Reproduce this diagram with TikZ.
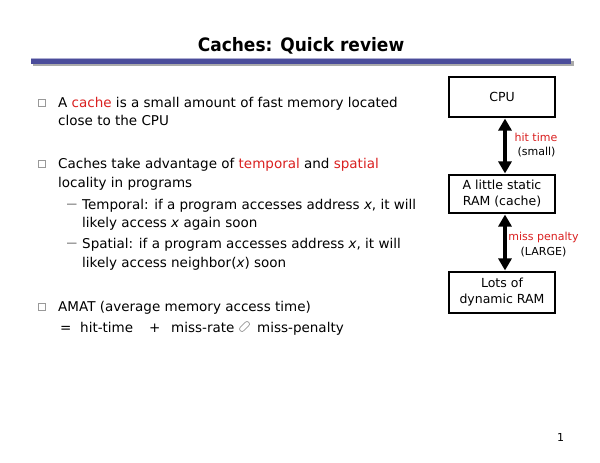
\documentclass[tikz,border=0pt]{standalone}
\usepackage{fontspec}
\setmainfont{DejaVu Sans}
\newfontfamily\titlefont{DejaVu Sans}[FakeStretch=0.92]
\usetikzlibrary{arrows.meta}
\definecolor{hl}{RGB}{218,32,32}
\definecolor{barblue}{RGB}{74,76,154}
\definecolor{bargray}{RGB}{170,170,170}
\begin{document}
\begin{tikzpicture}[x=1pt,y=-1pt,
  txt/.style={anchor=base west,inner sep=0pt,font=\fontsize{13.5}{16}\selectfont},
  dashmark/.style={anchor=base west,inner sep=0pt,font=\fontsize{10.5}{12}\selectfont,text=black!75},
  bulletbox/.style={draw=black!40,fill=white,line width=0.6pt,minimum size=7pt,inner sep=0pt,anchor=south west},
  membox/.style={draw=black,line width=1.1pt,minimum width=106pt,inner sep=0pt,align=center,font=\fontsize{12.5}{16}\selectfont},
  lbl/.style={anchor=base,inner sep=0pt,font=\fontsize{11}{13}\selectfont},
  dbl/.style={line width=4pt,{Triangle[width=13pt,length=12pt]}-{Triangle[width=13pt,length=12pt]},shorten <=1pt,shorten >=1pt}]
\useasboundingbox[fill=white] (0,0) rectangle (600,463);
% title and bar
\node[anchor=base,inner sep=0pt,font=\titlefont\bfseries\fontsize{18.5}{20}\selectfont] (title) at (301,51) {Caches: Quick review};
\fill[bargray] (33,60.5) rectangle (574,66);
\fill[barblue] (31,58) rectangle (571,63.5);
\draw[barblue!45!white,line width=0.8pt] (31,58.6) -- (571,58.6);
% bullets
\node[bulletbox] (b1) at (38,107) {};
\node[bulletbox] (b2) at (38,168) {};
\node[bulletbox] (b3) at (38,311) {};
\node[txt] (l1) at (58,107) {A \textcolor{hl}{cache} is a small amount of fast memory located};
\node[txt] (l2) at (58,125) {close to the CPU};
\node[txt] (l3) at (58,168) {Caches take advantage of \textcolor{hl}{temporal} and \textcolor{hl}{spatial}};
\node[txt] (l4) at (58,187) {locality in programs};
\node[dashmark] (d1) at (66.5,207) {—};
\node[dashmark] (d2) at (66.5,246.5) {—};
\node[txt] (s1) at (82,209) {Temporal: if a program accesses address \textit{x}, it will};
\node[txt] (s2) at (82,227) {likely access \textit{x} again soon};
\node[txt] (s3) at (82,248.5) {Spatial: if a program accesses address \textit{x}, it will};
\node[txt] (s4) at (82,267) {likely access neighbor(\textit{x}) soon};
\node[txt] (l5) at (58,311) {AMAT (average memory access time)};
\node[txt] (eq) at (60,332) {=};
\node[txt] (ht) at (80,332) {hit-time};
\node[txt] (pl) at (149,332) {+};
\node[txt] (mr) at (171,332) {miss-rate};
\node[draw=black!50,line width=0.6pt,rounded corners=2.5pt,minimum width=12pt,minimum height=5pt,inner sep=0pt,rotate=45] (sym) at (244.5,326.5) {};
\node[txt] (mp) at (257,332) {miss-penalty};
% memory hierarchy
\node[membox,minimum height=40pt] (cpu) at (502,97) {CPU};
\node[membox,minimum height=38pt] (cache) at (502,194) {A little static\\RAM (cache)};
\node[membox,minimum height=41pt] (dram) at (502,292.5) {Lots of\\dynamic RAM};
\draw[dbl] ([xshift=3pt]cpu.south) -- ([xshift=3pt]cache.north);
\draw[dbl] ([xshift=3pt]cache.south) -- ([xshift=3pt]dram.north);
\node[lbl,text=hl] (hitl) at (536,141.5) {hit time};
\node[lbl] (hits) at (536.5,155.5) {(small)};
\node[lbl,text=hl] (missl) at (543.5,240.5) {miss penalty};
\node[lbl] (misss) at (543.5,255.5) {(LARGE)};
\node[anchor=base,inner sep=0pt,font=\fontsize{11}{13}\selectfont] (pg) at (560.5,441.7) {1};
\end{tikzpicture}
\end{document}
